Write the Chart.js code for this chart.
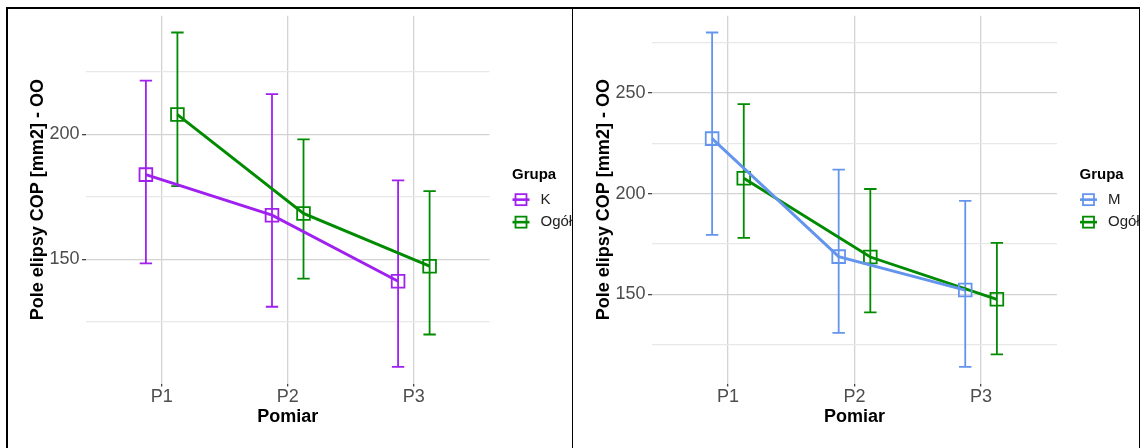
<!DOCTYPE html>
<html>
<head>
<meta charset="utf-8">
<script src="https://cdn.jsdelivr.net/npm/chart.js@4"></script>
<style>
body { margin:0; background:#fff; width:1142px; height:448px; overflow:hidden; position:relative; }
.panel { position:absolute; top:9px; height:439px; }
#left { left:8px; width:564px; }
#right { left:574px; width:565px; }
.line { position:absolute; background:#000; }
</style>
</head>
<body>
<div class="line" style="left:6px;top:7px;width:1134px;height:2px"></div>
<div class="line" style="left:6px;top:7px;width:2px;height:441px"></div>
<div class="line" style="left:572px;top:7px;width:1px;height:441px"></div>
<div class="line" style="left:1139px;top:7px;width:1px;height:441px"></div>
<div class="panel" id="left"><canvas id="c1"></canvas></div>
<div class="panel" id="right"><canvas id="c2"></canvas></div>
<script>
const categories = ['P1', 'P2', 'P3']

// left panel: K vs Ogół
const kMean = [183.9, 167.7, 141.3]
const kLo = [148.4, 131.1, 107.1]
const kHi = [221.5, 216.1, 181.6]
const ogolMeanA = [207.9, 168.4, 147.3]
const ogolLoA = [179.3, 142.3, 120.0]
const ogolHiA = [240.7, 198.0, 177.3]

// right panel: M vs Ogół
const mMean = [227.3, 168.7, 152.1]
const mLo = [179.5, 130.8, 114.0]
const mHi = [280.0, 211.9, 196.4]
const ogolMeanB = [207.6, 168.5, 147.5]
const ogolLoB = [178.0, 141.0, 120.2]
const ogolHiB = [244.4, 202.3, 175.5]

const yTicksA = [125, 150, 175, 200, 225]
const yLabelsA = [150, 200]
const yTicksB = [125, 150, 175, 200, 225, 250, 275]
const yLabelsB = [150, 200, 250]

const PURPLE = '#A020F0'
const GREEN = '#008B00'
const BLUE = '#6495ED'
const FONT = '"Liberation Sans", Arial, sans-serif'
Chart.defaults.font.family = FONT

const errorBars = {
    id: 'errorBars',
    beforeDatasetsDraw(chart) {
        const ctx = chart.ctx
        const xs = chart.scales.x
        const ys = chart.scales.y
        chart.data.datasets.forEach(ds => {
            ctx.save()
            ctx.strokeStyle = ds.borderColor
            ctx.lineWidth = 1.8
            ds.data.forEach((p, i) => {
                const x = xs.getPixelForValue(p.x)
                const y1 = ys.getPixelForValue(ds.errLo[i])
                const y2 = ys.getPixelForValue(ds.errHi[i])
                ctx.beginPath()
                ctx.moveTo(x, y1); ctx.lineTo(x, y2)
                ctx.moveTo(x - 6.2, y1); ctx.lineTo(x + 6.2, y1)
                ctx.moveTo(x - 6.2, y2); ctx.lineTo(x + 6.2, y2)
                ctx.stroke()
            })
            ctx.restore()
        })
    }
}

const groupLegend = {
    id: 'groupLegend',
    afterDraw(chart) {
        const ctx = chart.ctx
        const area = chart.chartArea
        const x0 = area.right + 22.5
        const mid = (area.top + area.bottom) / 2
        ctx.save()
        ctx.textBaseline = 'middle'
        ctx.fillStyle = '#000'
        ctx.font = 'bold 15px ' + FONT
        ctx.fillText('Grupa', x0, mid - 24.6)
        chart.data.datasets.forEach((ds, i) => {
            const y = mid + i * 22.5
            ctx.strokeStyle = ds.borderColor
            ctx.lineWidth = 2.6
            ctx.beginPath()
            ctx.moveTo(x0 + 0.5, y); ctx.lineTo(x0 + 17.5, y)
            ctx.stroke()
            ctx.lineWidth = 1.8
            ctx.strokeRect(x0 + 3.5, y - 5.5, 11, 11)
            ctx.fillStyle = '#222'
            ctx.font = '15px ' + FONT
            ctx.fillText(ds.label, x0 + 28.5, y)
        })
        ctx.restore()
    }
}

function makeDataset(label, color, mean, lo, hi, shift) {
    return {
        label: label,
        data: mean.map((v, i) => ({ x: i + 1 + shift, y: v })),
        errLo: lo,
        errHi: hi,
        borderColor: color,
        borderWidth: 2.9,
        pointStyle: 'rect',
        pointRadius: 9,
        pointBorderWidth: 1.8,
        pointBackgroundColor: 'rgba(0,0,0,0)',
        pointBorderColor: color,
        tension: 0
    }
}

function makeChart(canvas, datasets, yTicks, yLabels, chartLeft, chartRight) {
    const all = []
    datasets.forEach(ds => { all.push(...ds.errLo, ...ds.errHi) })
    const lo = Math.min(...all)
    const hi = Math.max(...all)
    const pad = (hi - lo) * 0.05
    const width = canvas.parentElement.clientWidth
    new Chart(canvas, {
        type: 'line',
        data: { datasets: datasets },
        options: {
            responsive: true,
            maintainAspectRatio: false,
            animation: false,
            layout: {
                autoPadding: false,
                padding: { top: 6.8, right: width - chartRight, left: 0, bottom: 0 }
            },
            plugins: { legend: { display: false }, tooltip: { enabled: false } },
            scales: {
                x: {
                    type: 'linear',
                    min: 0.4,
                    max: 3.6,
                    afterBuildTicks: axis => { axis.ticks = categories.map((c, i) => ({ value: i + 1 })) },
                    afterFit: axis => {
                        axis.height = 64.5
                        axis.paddingLeft = 0
                        axis.paddingRight = 0
                        axis.paddingTop = 0
                        axis.paddingBottom = 0
                    },
                    ticks: {
                        callback: v => categories[Math.round(v) - 1],
                        color: '#4d4d4d',
                        font: { size: 18 },
                        padding: 0,
                        maxRotation: 0
                    },
                    grid: { color: '#d3d3d3', lineWidth: 1.3, tickColor: '#444', tickLength: 3 },
                    border: { display: false },
                    title: {
                        display: true,
                        text: 'Pomiar',
                        color: '#000',
                        font: { size: 18, weight: 'bold' },
                        padding: { top: 0, bottom: 19.8 }
                    }
                },
                y: {
                    min: lo - pad,
                    max: hi + pad,
                    afterBuildTicks: axis => { axis.ticks = yTicks.map(v => ({ value: v })) },
                    afterFit: axis => {
                        axis.width = chartLeft
                        axis.paddingLeft = 0
                        axis.paddingRight = 0
                        axis.paddingTop = 0
                        axis.paddingBottom = 0
                    },
                    ticks: {
                        callback: v => yLabels.includes(v) ? String(v) : '',
                        color: '#4d4d4d',
                        font: { size: 18 },
                        padding: 2.5
                    },
                    grid: {
                        color: c => (c.tick && yLabels.includes(c.tick.value)) ? '#d3d3d3' : '#e8e8e8',
                        lineWidth: 1.3,
                        tickColor: c => (c.tick && yLabels.includes(c.tick.value)) ? '#444' : 'rgba(0,0,0,0)',
                        tickLength: 4
                    },
                    border: { display: false },
                    title: {
                        display: true,
                        text: 'Pole elipsy COP [mm2] - OO',
                        color: '#000',
                        font: { size: 18, weight: 'bold' },
                        padding: { top: 19, bottom: 0 }
                    }
                }
            }
        },
        plugins: [errorBars, groupLegend]
    })
}

makeChart(document.getElementById('c1'), [
    makeDataset('K', PURPLE, kMean, kLo, kHi, -0.125),
    makeDataset('Ogół', GREEN, ogolMeanA, ogolLoA, ogolHiA, 0.125)
], yTicksA, yLabelsA, 78, 481.5)

makeChart(document.getElementById('c2'), [
    makeDataset('M', BLUE, mMean, mLo, mHi, -0.125),
    makeDataset('Ogół', GREEN, ogolMeanB, ogolLoB, ogolHiB, 0.125)
], yTicksB, yLabelsB, 78, 483)
</script>
</body>
</html>
